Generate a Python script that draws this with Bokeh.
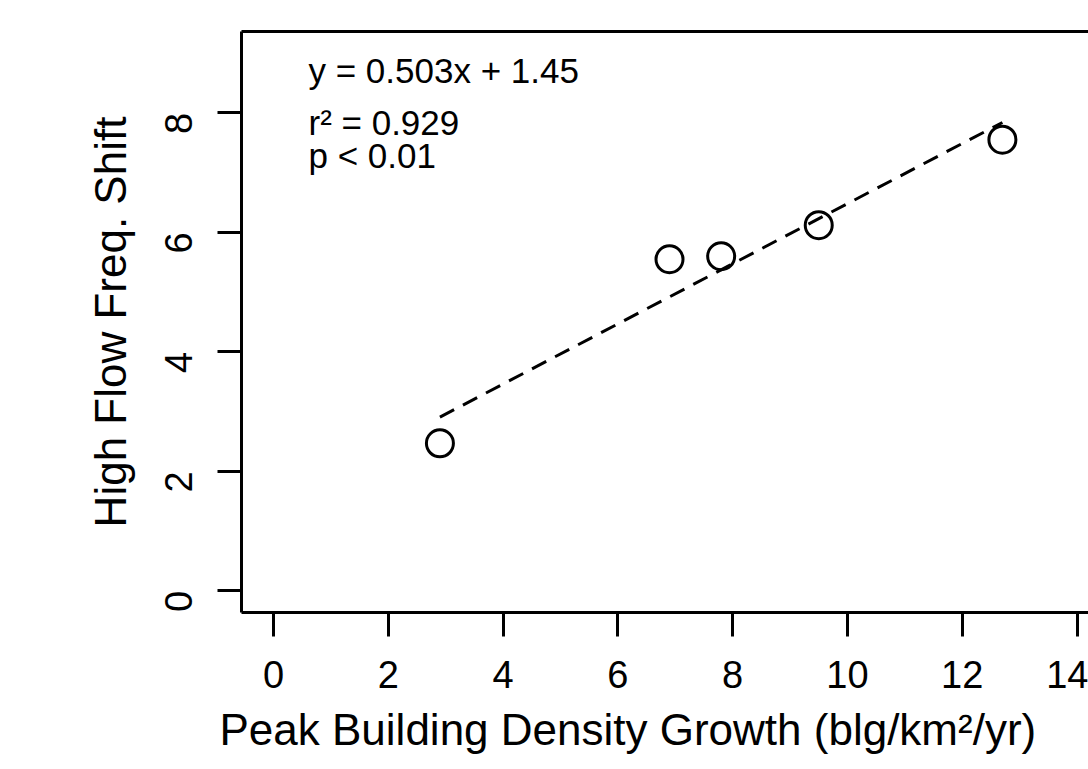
import math
from bokeh.plotting import figure
from bokeh.models import Range1d, FixedTicker, LinearAxis, Title
from bokeh.core.properties import value
from bokeh.embed import file_html
from bokeh.resources import INLINE

# ---- data ----
growth = [2.9, 6.9, 7.8, 9.5, 12.7]          # Peak building density growth
shift = [2.47, 5.55, 5.60, 6.12, 7.55]       # High flow freq. shift
fit_slope = 0.503
fit_intercept = 1.45
x_ticks = [0, 2, 4, 6, 8, 10, 12, 14]
y_ticks = [0, 2, 4, 6, 8]
annot_lines = ["y = 0.503x + 1.45", "r\u00b2 = 0.929", "p < 0.01"]
x_title = "Peak Building Density Growth (blg/km\u00b2/yr)"
y_title = "High Flow Freq. Shift"

FONT = "Liberation Sans"

p = figure(width=1088, height=769, output_backend="svg", toolbar_location=None,
           x_range=Range1d(-0.557, 14.2), y_range=Range1d(-0.36, 9.36),
           x_axis_location=None, y_axis_location=None,
           min_border_left=241, min_border_right=0, min_border_top=31,
           min_border_bottom=157)
p.outline_line_color = None
p.xgrid.visible = False
p.ygrid.visible = False
p.background_fill_color = "white"
p.border_fill_color = "white"

def style_axis(ax, ticks):
    ax.ticker = FixedTicker(ticks=ticks)
    ax.axis_line_width = 3
    ax.axis_line_color = "black"
    ax.major_tick_line_width = 3
    ax.major_tick_line_color = "black"
    ax.major_tick_out = 24
    ax.major_tick_in = 0
    ax.minor_tick_line_color = None
    ax.major_label_text_font = FONT
    ax.major_label_text_font_size = "38px"
    ax.major_label_text_color = "black"
    ax.axis_label_text_font = FONT
    ax.axis_label_text_font_size = "44px"
    ax.axis_label_text_font_style = "normal"
    ax.axis_label_text_color = "black"

xa = LinearAxis()
style_axis(xa, x_ticks)
xa.major_label_standoff = 24
p.add_layout(xa, "below")

ya = LinearAxis(axis_label=y_title)
style_axis(ya, y_ticks)
ya.major_label_orientation = math.pi / 2
ya.major_label_standoff = 39
ya.axis_label_standoff = 14
p.add_layout(ya, "left")

top = LinearAxis()
top.ticker = FixedTicker(ticks=[])
top.axis_line_width = 3
top.axis_line_color = "black"
top.major_tick_line_color = None
top.minor_tick_line_color = None
top.major_label_text_font_size = "0px"
p.add_layout(top, "above")

# x-axis title, left-aligned as in the original
p.add_layout(Title(text=x_title, text_font=FONT, text_font_size="44px",
                   text_font_style="normal", text_color="black",
                   align="left", offset=-22, standoff=25), "below")

# regression line over the data span
x0, x1 = min(growth), max(growth)
p.line([x0, x1], [fit_slope * x0 + fit_intercept, fit_slope * x1 + fit_intercept],
       line_color="black", line_width=3, line_dash="16 10")

p.scatter(growth, shift, marker="circle", size=27, fill_color=None,
          line_color="black", line_width=3)

# annotation
ann_y = [8.703, 7.841, 7.289]
p.text([0.61] * 3, ann_y, text=annot_lines, text_font=value(FONT),
       text_font_size="35px", text_color="black", text_baseline="middle",
       text_align="left")

open("out.html", "w").write(file_html(p, INLINE))
